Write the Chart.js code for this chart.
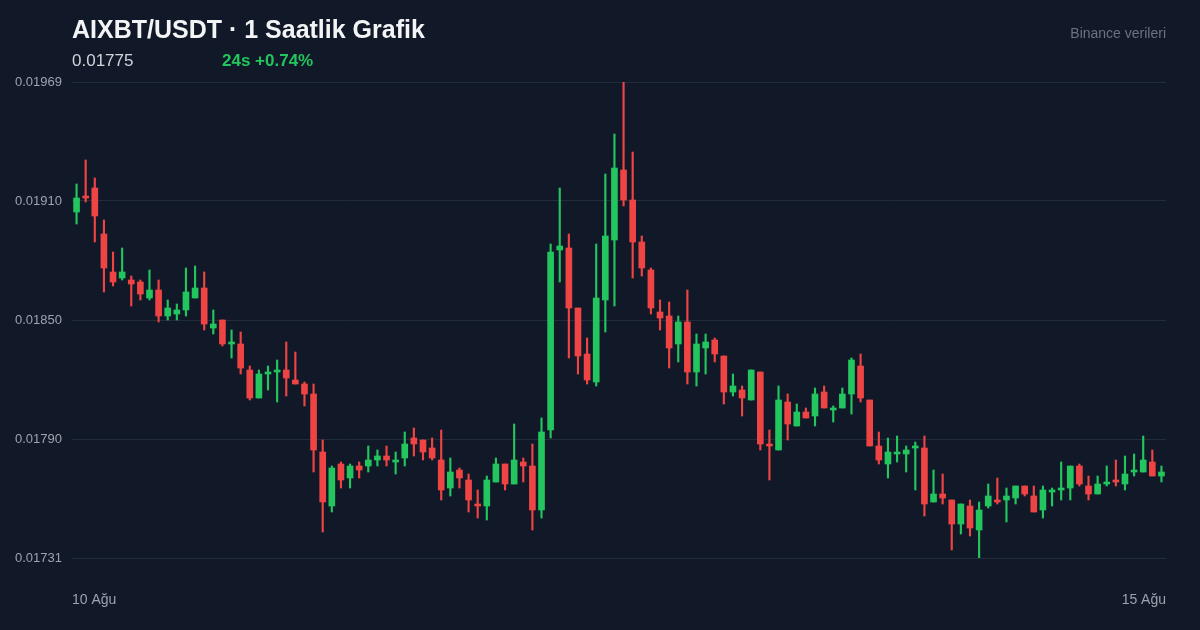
<!DOCTYPE html>
<html><head><meta charset="utf-8">
<script src="https://cdn.jsdelivr.net/npm/chart.js@4.4.1/dist/chart.umd.min.js"></script>
<style>html,body{margin:0;padding:0;background:#111827;}#wrap{width:1200px;height:630px;position:relative;}canvas{display:block;}</style>
</head><body><div id="wrap"><canvas id="c" width="1200" height="630" style="width:1200px;height:630px"></canvas></div>
<script>
// ---- data (AIXBT/USDT, 1h candles, 10 Ağu -> 15 Ağu) ----
const openP = [
0.01904,0.01912,0.01916,0.01893,0.01874,0.01871,0.01870,0.01869,0.01861,0.01865,
0.01852,0.01853,0.01855,0.01861,0.01866,0.01846,0.01850,0.01838,0.01838,0.01825,
0.01811,0.01823,0.01824,0.01825,0.01820,0.01818,0.01813,0.01784,0.01757,0.01778,
0.01771,0.01777,0.01777,0.01780,0.01782,0.01779,0.01781,0.01791,0.01790,0.01786,
0.01780,0.01766,0.01775,0.01770,0.01758,0.01757,0.01769,0.01778,0.01768,0.01779,
0.01777,0.01755,0.01795,0.01885,0.01886,0.01856,0.01833,0.01819,0.01860,0.01890,
0.01925,0.01910,0.01889,0.01875,0.01854,0.01852,0.01838,0.01849,0.01824,0.01836,
0.01840,0.01832,0.01814,0.01815,0.01810,0.01824,0.01788,0.01785,0.01809,0.01797,
0.01804,0.01802,0.01814,0.01805,0.01806,0.01813,0.01827,0.01810,0.01787,0.01778,
0.01783,0.01783,0.01786,0.01786,0.01759,0.01763,0.01760,0.01748,0.01757,0.01745,
0.01757,0.01760,0.01760,0.01761,0.01767,0.01762,0.01755,0.01764,0.01765,0.01766,
0.01777,0.01767,0.01763,0.01768,0.01770,0.01768,0.01774,0.01774,0.01779,0.01772
];
const highP = [
0.01918,0.01930,0.01921,0.01900,0.01884,0.01886,0.01872,0.01870,0.01875,0.01870,
0.01860,0.01858,0.01876,0.01877,0.01874,0.01855,0.01850,0.01845,0.01844,0.01827,
0.01825,0.01827,0.01830,0.01839,0.01834,0.01819,0.01818,0.01790,0.01777,0.01779,
0.01778,0.01779,0.01787,0.01785,0.01787,0.01784,0.01794,0.01796,0.01790,0.01791,
0.01795,0.01781,0.01776,0.01773,0.01765,0.01772,0.01781,0.01778,0.01798,0.01781,
0.01788,0.01801,0.01888,0.01916,0.01893,0.01856,0.01841,0.01888,0.01923,0.01943,
0.01969,0.01934,0.01892,0.01876,0.01860,0.01859,0.01852,0.01865,0.01843,0.01843,
0.01841,0.01832,0.01823,0.01817,0.01825,0.01824,0.01795,0.01817,0.01813,0.01808,
0.01806,0.01816,0.01817,0.01807,0.01816,0.01831,0.01833,0.01810,0.01794,0.01791,
0.01792,0.01787,0.01789,0.01792,0.01775,0.01773,0.01760,0.01758,0.01760,0.01759,
0.01768,0.01771,0.01766,0.01767,0.01767,0.01767,0.01767,0.01766,0.01779,0.01777,
0.01778,0.01772,0.01772,0.01777,0.01780,0.01782,0.01783,0.01792,0.01785,0.01777
];
const lowP = [
0.01898,0.01909,0.01889,0.01864,0.01867,0.01870,0.01857,0.01860,0.01860,0.01849,
0.01850,0.01850,0.01852,0.01861,0.01845,0.01843,0.01837,0.01831,0.01823,0.01810,
0.01811,0.01815,0.01809,0.01812,0.01818,0.01807,0.01774,0.01744,0.01754,0.01766,
0.01766,0.01771,0.01774,0.01777,0.01777,0.01773,0.01777,0.01782,0.01780,0.01780,
0.01760,0.01762,0.01766,0.01754,0.01751,0.01750,0.01769,0.01765,0.01768,0.01769,
0.01745,0.01751,0.01791,0.01869,0.01831,0.01823,0.01818,0.01817,0.01844,0.01857,
0.01907,0.01871,0.01872,0.01853,0.01845,0.01826,0.01829,0.01818,0.01817,0.01823,
0.01829,0.01808,0.01812,0.01802,0.01810,0.01785,0.01770,0.01785,0.01790,0.01797,
0.01801,0.01797,0.01806,0.01799,0.01806,0.01803,0.01809,0.01787,0.01778,0.01771,
0.01779,0.01774,0.01765,0.01752,0.01759,0.01758,0.01735,0.01743,0.01742,0.01731,
0.01756,0.01758,0.01749,0.01758,0.01762,0.01754,0.01751,0.01757,0.01760,0.01760,
0.01767,0.01760,0.01763,0.01767,0.01767,0.01765,0.01772,0.01774,0.01772,0.01769
];
const closeP = [
0.01911,0.01911,0.01902,0.01876,0.01869,0.01874,0.01868,0.01863,0.01865,0.01852,
0.01856,0.01855,0.01864,0.01866,0.01848,0.01848,0.01838,0.01838,0.01826,0.01811,
0.01823,0.01824,0.01825,0.01821,0.01818,0.01813,0.01785,0.01759,0.01776,0.01770,
0.01777,0.01775,0.01780,0.01782,0.01780,0.01780,0.01788,0.01788,0.01784,0.01781,
0.01765,0.01774,0.01771,0.01760,0.01757,0.01770,0.01778,0.01768,0.01780,0.01777,
0.01755,0.01794,0.01884,0.01887,0.01856,0.01832,0.01820,0.01861,0.01892,0.01926,
0.01910,0.01889,0.01876,0.01856,0.01851,0.01836,0.01849,0.01824,0.01838,0.01839,
0.01833,0.01814,0.01817,0.01811,0.01825,0.01788,0.01787,0.01810,0.01798,0.01804,
0.01801,0.01813,0.01806,0.01806,0.01813,0.01830,0.01811,0.01787,0.01780,0.01784,
0.01784,0.01785,0.01787,0.01758,0.01763,0.01761,0.01748,0.01758,0.01746,0.01755,
0.01762,0.01759,0.01762,0.01767,0.01763,0.01754,0.01765,0.01765,0.01766,0.01777,
0.01768,0.01763,0.01768,0.01769,0.01769,0.01773,0.01775,0.01780,0.01772,0.01774
];
const yMin = 0.01731, yMax = 0.01969;
const yTickLabels = ['0.01731','0.01790','0.01850','0.01910','0.01969'];
const xTickLabels = ['10 Ağu','15 Ağu'];
const titleText = 'AIXBT/USDT · 1 Saatlik Grafik';
const lastPriceText = '0.01775';
const changeText = '24s +0.74%';
const sourceText = 'Binance verileri';

// ---- styles ----
const UP = '#22c55e', DOWN = '#ef4444', BG = '#111827';
const FONT = '"Liberation Sans", Arial, sans-serif';

const idx = openP.map((_, i) => i);
const colors = idx.map(i => closeP[i] >= openP[i] ? UP : DOWN);
const bodies = idx.map(i => ({x: i, y: [openP[i], closeP[i]]}));
const wicks = idx.map(i => ({x: i, y: [lowP[i], highP[i]]}));

const headerPlugin = {
  id: 'header',
  beforeDraw(chart) {
    const ctx = chart.ctx;
    ctx.save();
    ctx.fillStyle = BG;
    ctx.fillRect(0, 0, chart.width, chart.height);
    ctx.restore();
  },
  afterDraw(chart) {
    const ctx = chart.ctx;
    const left = chart.chartArea.left, right = chart.chartArea.right;
    ctx.save();
    ctx.textBaseline = 'alphabetic';
    ctx.textAlign = 'left';
    ctx.fillStyle = '#f3f4f6';
    ctx.font = 'bold 25px ' + FONT;
    ctx.fillText(titleText, left, 38);
    ctx.fillStyle = '#d1d5db';
    ctx.font = '17px ' + FONT;
    ctx.fillText(lastPriceText, left, 66);
    ctx.fillStyle = UP;
    ctx.font = 'bold 17px ' + FONT;
    ctx.fillText(changeText, left + 150, 66);
    ctx.textAlign = 'right';
    ctx.fillStyle = '#6b7280';
    ctx.font = '14px ' + FONT;
    ctx.fillText(sourceText, right, 38);
    ctx.restore();
  }
};

new Chart(document.getElementById('c'), {
  type: 'bar',
  data: {
    datasets: [
      {data: bodies, backgroundColor: colors, borderWidth: 0, barThickness: 6, minBarLength: 2, grouped: false},
      {data: wicks, backgroundColor: colors, borderWidth: 0, barThickness: 1.5, grouped: false}
    ]
  },
  options: {
    responsive: false,
    animation: false,
    devicePixelRatio: 1,
    events: [],
    layout: {padding: {left: 15, right: 34, top: 82, bottom: 0}},
    plugins: {legend: {display: false}, tooltip: {enabled: false}},
    scales: {
      x: {
        type: 'linear', min: -0.5, max: idx.length - 0.5, offset: false,
        grid: {display: false, drawTicks: false},
        border: {display: false},
        afterBuildTicks: s => { s.ticks = [{value: -0.5}, {value: idx.length - 0.5}]; },
        afterFit: s => { s.height = 72; },
        ticks: {
          autoSkip: false, maxRotation: 0, align: 'inner', padding: 34,
          color: '#9ca3af', font: {family: FONT, size: 14},
          callback: (v, i) => xTickLabels[i]
        }
      },
      y: {
        min: yMin, max: yMax,
        grid: {color: '#232c3b', lineWidth: 1, drawTicks: false},
        border: {display: false},
        afterBuildTicks: s => { s.ticks = yTickLabels.map((_, i) => ({value: yMin + i * (yMax - yMin) / (yTickLabels.length - 1)})); },
        afterFit: s => { s.width = 57; },
        ticks: {
          crossAlign: 'far', padding: 0,
          color: '#9ca3af', font: {family: FONT, size: 13},
          callback: (v, i) => yTickLabels[i]
        }
      }
    }
  },
  plugins: [headerPlugin]
});
</script>
</body></html>
